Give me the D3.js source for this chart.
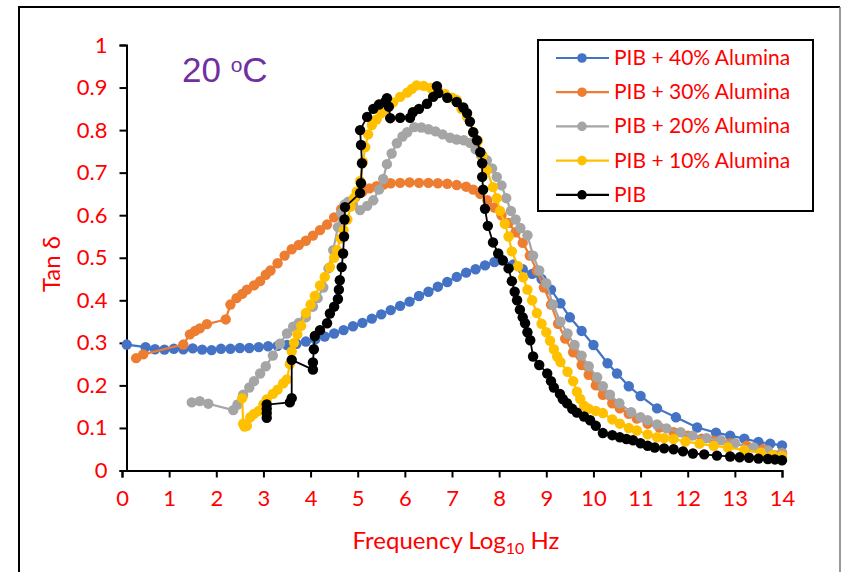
<!DOCTYPE html>
<html><head><meta charset="utf-8">
<script src="https://cdn.jsdelivr.net/npm/d3@7"></script>
<style>body{margin:0;background:#fff}svg{display:block}</style>
</head><body>
<svg id="c" width="842" height="572"></svg>
<script>
// ---- data (log10 frequency, tan delta) ----
const seriesNames = ["PIB + 40% Alumina","PIB + 30% Alumina","PIB + 20% Alumina","PIB + 10% Alumina","PIB"];
const seriesColors = ["#4472C4","#ED7D31","#A5A5A5","#FFC000","#000000"];
const xTicks = [0,1,2,3,4,5,6,7,8,9,10,11,12,13,14];
const yTicks = [0,0.1,0.2,0.3,0.4,0.5,0.6,0.7,0.8,0.9,1];

const pib40 = [[0.1,0.296],[0.5,0.29],[0.7,0.285],[0.9,0.284],[1.1,0.286],[1.3,0.285],[1.5,0.287],[1.7,0.284],[1.9,0.283],[2.1,0.286],[2.3,0.286],[2.5,0.288],[2.7,0.288],[2.9,0.29],[3.1,0.292],[3.3,0.293],[3.5,0.295],[3.7,0.298],[3.9,0.303],[4.1,0.308],[4.3,0.315],[4.5,0.322],[4.7,0.33],[4.9,0.339],[5.1,0.347],[5.3,0.357],[5.5,0.367],[5.7,0.377],[5.9,0.387],[6.1,0.397],[6.3,0.41],[6.5,0.42],[6.7,0.432],[6.9,0.443],[7.1,0.455],[7.3,0.465],[7.5,0.473],[7.7,0.482],[7.9,0.49],[8.05,0.494],[8.3,0.484],[8.5,0.473],[8.7,0.462],[8.9,0.45],[9.1,0.425],[9.3,0.393],[9.5,0.36],[9.75,0.328],[10.0,0.295],[10.3,0.252],[10.5,0.228],[10.75,0.198],[11.0,0.175],[11.35,0.146],[11.75,0.125],[12.2,0.101],[12.6,0.089],[12.9,0.082],[13.2,0.075],[13.5,0.067],[13.75,0.063],[14.0,0.059]];
const pib30 = [[0.3,0.264],[0.45,0.273],[1.3,0.296],[1.44,0.32],[1.55,0.328],[1.65,0.334],[1.8,0.344],[2.2,0.355],[2.3,0.39],[2.43,0.405],[2.55,0.415],[2.65,0.425],[2.8,0.435],[2.93,0.445],[3.05,0.46],[3.15,0.47],[3.3,0.487],[3.45,0.505],[3.6,0.52],[3.75,0.53],[3.9,0.54],[4.05,0.552],[4.2,0.565],[4.35,0.578],[4.5,0.595],[4.65,0.614],[4.8,0.628],[4.95,0.642],[5.1,0.655],[5.25,0.663],[5.4,0.668],[5.55,0.672],[5.7,0.675],[5.9,0.676],[6.1,0.677],[6.3,0.676],[6.5,0.676],[6.7,0.675],[6.9,0.674],[7.1,0.671],[7.3,0.667],[7.45,0.66],[7.6,0.65],[7.75,0.635],[7.9,0.618],[8.05,0.6],[8.2,0.582],[8.35,0.56],[8.5,0.535],[8.65,0.505],[8.8,0.47],[8.95,0.43],[9.1,0.39],[9.25,0.345],[9.4,0.31],[9.57,0.278],[9.75,0.248],[9.9,0.225],[10.05,0.2],[10.2,0.178],[10.4,0.158],[10.56,0.146],[10.75,0.133],[10.92,0.122],[11.15,0.11],[11.4,0.101],[11.7,0.09],[12.0,0.082],[12.3,0.075],[12.55,0.07],[12.9,0.064],[13.25,0.058],[13.6,0.05],[14.0,0.042]];
const pib20 = [[1.48,0.16],[1.65,0.163],[1.83,0.157],[2.36,0.142],[2.45,0.155],[2.57,0.178],[2.7,0.195],[2.8,0.21],[2.93,0.228],[3.05,0.245],[3.2,0.27],[3.35,0.298],[3.5,0.322],[3.63,0.338],[3.75,0.347],[3.9,0.36],[4.05,0.385],[4.15,0.405],[4.27,0.43],[4.38,0.475],[4.48,0.518],[4.58,0.572],[4.65,0.605],[4.72,0.625],[4.8,0.632],[4.9,0.625],[5.05,0.612],[5.2,0.622],[5.33,0.635],[5.45,0.66],[5.54,0.685],[5.62,0.72],[5.72,0.745],[5.83,0.769],[5.95,0.785],[6.05,0.795],[6.2,0.807],[6.35,0.806],[6.5,0.802],[6.65,0.797],[6.8,0.79],[6.96,0.782],[7.1,0.778],[7.25,0.776],[7.38,0.77],[7.5,0.755],[7.62,0.74],[7.74,0.729],[7.85,0.71],[7.95,0.69],[8.05,0.67],[8.15,0.64],[8.25,0.61],[8.35,0.59],[8.45,0.57],[8.6,0.553],[8.72,0.505],[8.85,0.47],[9.0,0.44],[9.14,0.39],[9.3,0.35],[9.45,0.322],[9.6,0.295],[9.75,0.27],[9.9,0.245],[10.08,0.219],[10.2,0.198],[10.35,0.178],[10.55,0.158],[10.8,0.137],[11.0,0.125],[11.15,0.118],[11.35,0.108],[11.55,0.099],[11.85,0.09],[12.1,0.082],[12.4,0.076],[12.7,0.071],[13.0,0.064],[13.4,0.054],[13.7,0.047],[14.0,0.04]];
const pib10 = [[2.55,0.17],[2.57,0.11],[2.6,0.103],[2.65,0.105],[2.72,0.125],[2.8,0.133],[2.9,0.14],[3.0,0.155],[3.07,0.167],[3.2,0.18],[3.3,0.19],[3.42,0.205],[3.5,0.214],[3.56,0.25],[3.6,0.28],[3.65,0.3],[3.72,0.32],[3.8,0.34],[3.9,0.37],[4.0,0.39],[4.09,0.41],[4.2,0.435],[4.3,0.455],[4.41,0.478],[4.5,0.5],[4.56,0.518],[4.64,0.545],[4.7,0.565],[4.78,0.59],[4.85,0.62],[4.92,0.64],[4.98,0.655],[5.05,0.68],[5.11,0.725],[5.16,0.76],[5.22,0.79],[5.3,0.812],[5.4,0.825],[5.5,0.84],[5.62,0.85],[5.75,0.865],[5.9,0.878],[6.05,0.888],[6.15,0.897],[6.25,0.905],[6.4,0.904],[6.55,0.899],[6.7,0.893],[6.85,0.885],[7.0,0.876],[7.1,0.871],[7.2,0.85],[7.32,0.831],[7.45,0.795],[7.55,0.775],[7.65,0.74],[7.74,0.706],[7.87,0.666],[7.95,0.64],[8.02,0.61],[8.12,0.58],[8.2,0.55],[8.27,0.515],[8.4,0.48],[8.51,0.454],[8.6,0.425],[8.7,0.4],[8.8,0.37],[8.9,0.345],[9.0,0.325],[9.08,0.305],[9.16,0.285],[9.23,0.268],[9.3,0.255],[9.45,0.232],[9.57,0.21],[9.65,0.185],[9.72,0.168],[9.8,0.152],[9.9,0.145],[10.05,0.14],[10.2,0.135],[10.4,0.12],[10.56,0.11],[10.75,0.1],[10.92,0.094],[11.15,0.085],[11.35,0.078],[11.5,0.076],[11.7,0.074],[11.95,0.068],[12.25,0.063],[12.55,0.058],[12.85,0.054],[13.2,0.048],[13.55,0.042],[13.8,0.036],[14.0,0.034]];
const pib = [[3.07,0.124],[3.07,0.135],[3.07,0.145],[3.07,0.155],[3.56,0.16],[3.6,0.17],[3.6,0.26],[4.05,0.237],[4.05,0.254],[4.07,0.285],[4.09,0.316],[4.2,0.33],[4.35,0.346],[4.41,0.369],[4.5,0.385],[4.58,0.403],[4.6,0.425],[4.62,0.447],[4.66,0.478],[4.69,0.51],[4.71,0.55],[4.72,0.59],[4.73,0.619],[5.05,0.652],[5.07,0.675],[5.09,0.722],[5.07,0.765],[5.05,0.8],[5.2,0.831],[5.33,0.85],[5.45,0.86],[5.58,0.866],[5.62,0.875],[5.66,0.855],[5.69,0.828],[5.9,0.829],[6.11,0.829],[6.17,0.842],[6.3,0.85],[6.47,0.862],[6.6,0.878],[6.68,0.903],[6.71,0.887],[6.9,0.876],[7.1,0.866],[7.24,0.853],[7.32,0.84],[7.38,0.82],[7.45,0.795],[7.53,0.776],[7.6,0.748],[7.64,0.722],[7.64,0.69],[7.66,0.66],[7.7,0.615],[7.76,0.575],[7.87,0.536],[7.98,0.51],[8.08,0.494],[8.2,0.475],[8.27,0.445],[8.33,0.42],[8.38,0.4],[8.44,0.378],[8.5,0.36],[8.55,0.346],[8.6,0.325],[8.66,0.306],[8.72,0.268],[8.85,0.248],[9.02,0.228],[9.1,0.21],[9.16,0.195],[9.29,0.18],[9.35,0.168],[9.44,0.158],[9.55,0.145],[9.65,0.136],[9.8,0.127],[9.93,0.118],[10.05,0.105],[10.2,0.088],[10.4,0.083],[10.56,0.078],[10.7,0.074],[10.84,0.071],[11.0,0.064],[11.15,0.058],[11.3,0.054],[11.5,0.052],[11.7,0.05],[11.9,0.045],[12.11,0.04],[12.35,0.038],[12.62,0.035],[12.9,0.033],[13.1,0.031],[13.3,0.03],[13.5,0.028],[13.7,0.027],[13.85,0.026],[14.0,0.024]];
const allSeries = [pib40, pib30, pib20, pib10, pib];

// ---- drawing ----
const svg = d3.select("#c");
const FONT = "Lato, 'Open Sans', sans-serif";
const RED = "#FF0000";

// outer border
svg.append("line").attr("x1",19).attr("y1",7).attr("x2",840).attr("y2",7).attr("stroke","#000").attr("stroke-width",2);
svg.append("line").attr("x1",19).attr("y1",6).attr("x2",19).attr("y2",572).attr("stroke","#000").attr("stroke-width",2);
svg.append("line").attr("x1",840).attr("y1",7).attr("x2",840).attr("y2",572).attr("stroke","#777").attr("stroke-width",1.5);

const x = d3.scaleLinear().domain([0,14]).range([122,782]);
const y = d3.scaleLinear().domain([0,1]).range([470.5,45]);

// x axis
const gx = svg.append("g").attr("transform","translate(0,470.5)")
  .call(d3.axisBottom(x).tickValues(xTicks).tickSize(7).tickPadding(13).tickFormat(d3.format("d")));
gx.select(".domain").attr("stroke","#000").attr("stroke-width",2);
gx.selectAll(".tick line").attr("stroke","#000").attr("stroke-width",2);
gx.selectAll("text").attr("fill",RED).attr("font-family",FONT).attr("font-size",22);

// y axis
const gy = svg.append("g").attr("transform","translate(126.5,0)")
  .call(d3.axisLeft(y).tickValues(yTicks).tickSize(7).tickPadding(12).tickFormat(d=> d===0?"0":(d===1?"1":d3.format(".1f")(d))));
gy.select(".domain").attr("stroke","#000").attr("stroke-width",2);
gy.selectAll(".tick line").attr("stroke","#000").attr("stroke-width",2);
gy.selectAll("text").attr("fill",RED).attr("font-family",FONT).attr("font-size",22);

// series
const line = d3.line().x(d=>x(d[0])).y(d=>y(d[1]));
allSeries.forEach((data,i)=>{
  const g = svg.append("g");
  g.append("path").attr("d",line(data)).attr("fill","none")
    .attr("stroke",seriesColors[i]).attr("stroke-width", i===4?1.8:2.2).attr("stroke-linejoin","round");
  g.selectAll("circle").data(data).join("circle")
    .attr("cx",d=>x(d[0])).attr("cy",d=>y(d[1])).attr("r",5.2).attr("fill",seriesColors[i]);
});

// axis titles
const xt = svg.append("text").attr("x",456).attr("y",549).attr("text-anchor","middle")
  .attr("fill",RED).attr("font-family",FONT).attr("font-size",24);
xt.append("tspan").text("Frequency Log");
xt.append("tspan").attr("font-size",16).attr("dy",5).text("10");
xt.append("tspan").attr("dy",-5).text(" Hz");

svg.append("text").attr("transform","translate(60,264) rotate(-90)").attr("text-anchor","middle")
  .attr("fill",RED).attr("font-family",FONT).attr("font-size",24).text("Tan δ");

// temperature label
const tl = svg.append("text").attr("x",182).attr("y",82).attr("fill","#7030A0")
  .attr("font-family","'Liberation Sans', Arial, sans-serif").attr("font-size",35);
tl.append("tspan").text("20 ");
tl.append("tspan").attr("font-size",21).attr("dy",-10).text("o");
tl.append("tspan").attr("dy",10).text("C");

// legend
const lg = svg.append("g");
lg.append("rect").attr("x",538).attr("y",40).attr("width",275).attr("height",171)
  .attr("fill","#fff").attr("stroke","#000").attr("stroke-width",2);
seriesNames.forEach((name,i)=>{
  const cy = 58 + i*34.2;
  lg.append("line").attr("x1",556).attr("x2",609).attr("y1",cy).attr("y2",cy)
    .attr("stroke",seriesColors[i]).attr("stroke-width",2.2);
  lg.append("circle").attr("cx",582).attr("cy",cy).attr("r",4.8).attr("fill",seriesColors[i]);
  lg.append("text").attr("x",614).attr("y",cy+7).attr("fill",RED)
    .attr("font-family",FONT).attr("font-size",21).text(name);
});
</script>
</body></html>
